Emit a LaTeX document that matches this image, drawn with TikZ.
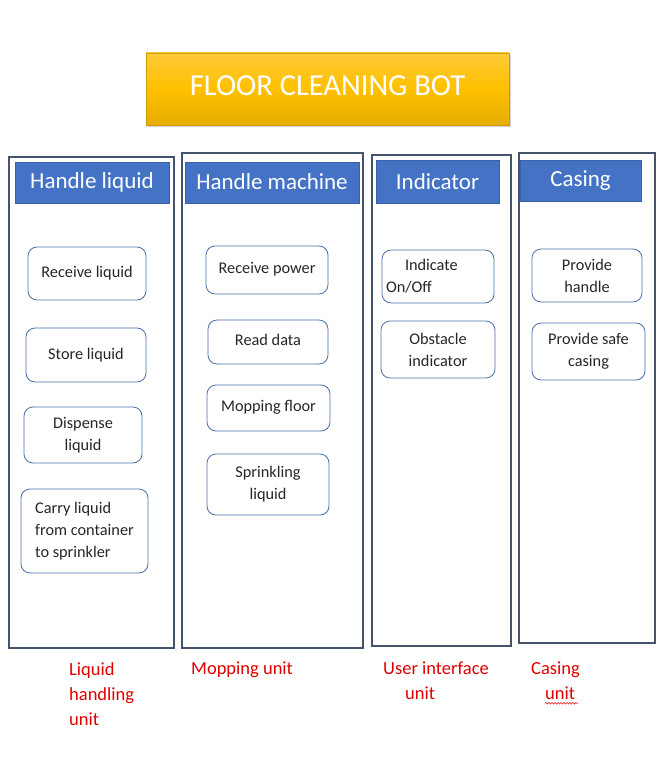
\documentclass[tikz,border=0pt]{standalone}
\usepackage{fontspec}
\setmainfont{Carlito}
\usetikzlibrary{shadows,decorations.pathmorphing}
\definecolor{framec}{HTML}{44546A}
\definecolor{headc}{HTML}{4472C4}
\definecolor{itemc}{HTML}{4A70A8}
\definecolor{labc}{HTML}{E00000}
\definecolor{goldtop}{HTML}{FFCA3A}
\definecolor{goldmid}{HTML}{FFC000}
\definecolor{goldbot}{HTML}{E6AD00}
\begin{document}
\begin{tikzpicture}[x=1pt,y=-1pt,
  column/.style={draw=framec, line width=2pt, inner sep=0},
  header/.style={fill=headc, draw=headc!85!black, line width=0.6pt, text=white,
    font=\fontsize{23}{26}\selectfont, inner sep=0},
  item/.style={draw=itemc, rounded corners=9pt, line width=0.8pt, fill=white,
    text=black!85, font=\fontsize{16.3}{22}\selectfont, align=center, inner sep=0},
  unitlab/.style={text=labc, font=\fontsize{18.5}{25}\selectfont, align=left,
    anchor=north west, inner sep=0}]
\useasboundingbox (0,0) rectangle (659,775);

% title banner
\node[minimum width=363, minimum height=72, inner sep=0,
  top color=goldtop, bottom color=goldbot, middle color=goldmid,
  draw=goldbot!90!black, line width=0.4pt,
  drop shadow={opacity=0.35, shadow xshift=2pt, shadow yshift=-2pt},
  text=white, font=\fontsize{30.5}{34}\selectfont] (title) at (327.5,89) {\raisebox{7pt}{FLOOR CLEANING BOT}};

% column frames
\node[column, minimum width=165, minimum height=491] (col1) at (91.5,402.5) {};
\node[column, minimum width=181, minimum height=495] (col2) at (272.5,400.5) {};
\node[column, minimum width=139, minimum height=491] (col3) at (441.5,400.5) {};
\node[column, minimum width=136, minimum height=490] (col4) at (587,398) {};

% column headers
\node[header, minimum width=154, minimum height=41] (h1) at (92,182.5) {\raisebox{-2pt}{Handle liquid}};
\node[header, minimum width=174, minimum height=41] (h2) at (272,182.5) {\raisebox{1pt}{Handle machine}};
\node[header, minimum width=123, minimum height=43] (h3) at (437.5,181.5) {Indicator};
\node[header, minimum width=121, minimum height=41] (h4) at (580.5,180.5) {Casing};

% liquid handling functions
\node[item, minimum width=118, minimum height=53] (a1) at (87,273.5) {\raisebox{3pt}{Receive liquid}};
\node[item, minimum width=120, minimum height=54] (a2) at (86,355) {\raisebox{3pt}{Store liquid}};
\node[item, minimum width=118, minimum height=56] (a3) at (83,435) {Dispense\\liquid};
\node[item, minimum width=127, minimum height=84, align=left] (a4) at (84.5,531)
  {Carry liquid\\from container\\to sprinkler};

% machine functions
\node[item, minimum width=122, minimum height=48] (b1) at (267,270) {\raisebox{5pt}{Receive power}};
\node[item, minimum width=120, minimum height=44] (b2) at (268,342) {\raisebox{4pt}{Read data}};
\node[item, minimum width=123, minimum height=46] (b3) at (268.5,408) {\raisebox{4pt}{Mopping floor}};
\node[item, minimum width=122, minimum height=61] (b4) at (268,484.5) {Sprinkling\\liquid};

% indicator functions
\node[item, minimum width=112, minimum height=53, text width=104pt, align=left] (c1) at (438,276.5)
  {\raisebox{-3pt}{\hspace*{19pt}Indicate}\\\raisebox{-3pt}{On/Off}};
\node[item, minimum width=114, minimum height=57] (c2) at (438,349.5) {Obstacle\\indicator};

% casing functions
\node[item, minimum width=110, minimum height=53] (d1) at (587,275.5) {Provide\\handle};
\node[item, minimum width=113, minimum height=57] (d2) at (588.5,351.5) {Provide safe\\casing};

% unit names
\node[unitlab] (u1) at (69,662) {Liquid\\handling\\unit};
\node[unitlab] (u2) at (191,662) {Mopping unit};
\node[unitlab] (u3) at (383,662) {User interface\\\hspace*{22pt}unit};
\node[unitlab] (u4) at (531,662) {Casing\\\hspace*{14pt}unit};
\draw[labc, line width=0.5pt, decorate,
  decoration={snake, amplitude=0.9pt, segment length=3pt}]
  ([xshift=14pt,yshift=-3pt]u4.south west) -- ([xshift=47pt,yshift=-3pt]u4.south west);
\end{tikzpicture}
\end{document}
